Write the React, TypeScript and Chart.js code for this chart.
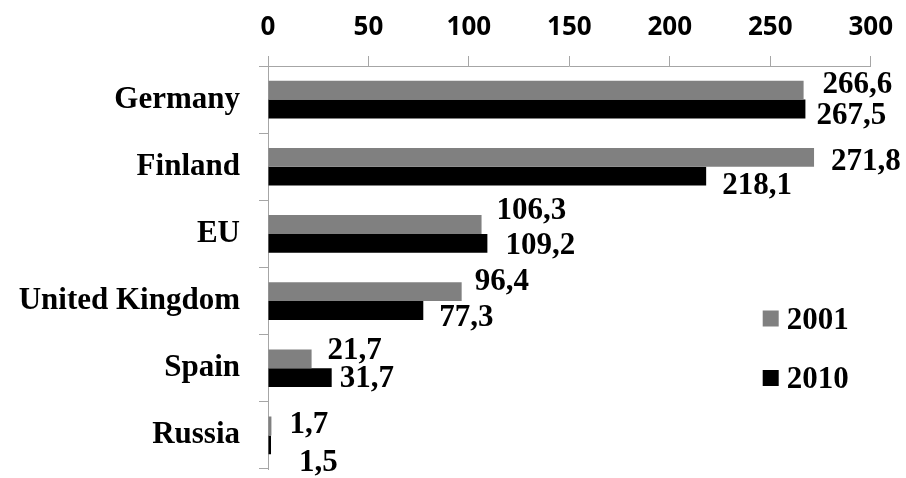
import { useEffect, useRef } from 'react';
import { Chart, registerables } from 'chart.js';

Chart.register(...registerables);

const categories = ['Germany', 'Finland', 'EU', 'United Kingdom', 'Spain', 'Russia'];
const seriesNames = ['2001', '2010'];
const values2001 = [266.6, 271.8, 106.3, 96.4, 21.7, 1.7];
const values2010 = [267.5, 218.1, 109.2, 77.3, 31.7, 1.5];
const axisMin = 0;
const axisMax = 300;
const axisStep = 50;

const seriesColors = ['#808080', '#000000'];

// Hand-placed value label offsets [dx from bar end, dy of digit centre from bar centre]
const labelNudge2001 = [[19, -7.5], [17, 2], [15, -16], [13, -12], [16, -10.5], [18, -3]];
const labelNudge2010 = [[11, 5], [16, 7], [18, 0], [16, 5], [8, -1.5], [28, 16]];

const SERIF = '"Liberation Serif", "Times New Roman", serif';
const SANS = '"Open Sans", "DejaVu Sans", sans-serif';
const AXIS_GREY = '#a6a6a6';
const LABEL_SIZE = 31;
// half the height of a digit, so text can be centred on its figures
const DIGIT_HALF = LABEL_SIZE * 0.338;

const WIDTH = 906;
const HEIGHT = 478;

const formatValue = (v: number) => v.toFixed(1).replace('.', ',');

const valueLabelPlugin = {
  id: 'valueLabels',
  afterDraw(chart: any) {
    const ctx = chart.ctx;
    const nudges = [labelNudge2001, labelNudge2010];
    ctx.save();
    ctx.font = `bold ${LABEL_SIZE}px ${SERIF}`;
    ctx.fillStyle = '#000';
    ctx.textAlign = 'left';
    ctx.textBaseline = 'alphabetic';
    chart.data.datasets.forEach((ds: any, i: number) => {
      const meta = chart.getDatasetMeta(i);
      meta.data.forEach((bar: any, j: number) => {
        const [dx, dy] = nudges[i][j];
        ctx.fillText(formatValue(ds.data[j]), bar.x + dx, bar.y + dy + DIGIT_HALF);
      });
    });
    ctx.restore();
  },
};

const sideLegendPlugin = {
  id: 'sideLegend',
  afterDraw(chart: any) {
    const ctx = chart.ctx;
    const { right, bottom } = chart.chartArea;
    const rows = [bottom - 150.5, bottom - 91];
    ctx.save();
    ctx.font = `bold ${LABEL_SIZE}px ${SERIF}`;
    ctx.textAlign = 'left';
    ctx.textBaseline = 'alphabetic';
    seriesNames.forEach((name, i) => {
      const x = right - 108;
      const y = rows[i];
      ctx.fillStyle = seriesColors[i];
      ctx.fillRect(x, y - 8, 16, 16);
      ctx.fillStyle = '#000';
      ctx.fillText(name, x + 24, y + DIGIT_HALF);
    });
    ctx.restore();
  },
};

export default function App() {
  const canvasRef = useRef<HTMLCanvasElement | null>(null);

  useEffect(() => {
    if (!canvasRef.current) return;
    const chart = new Chart(canvasRef.current, {
      type: 'bar',
      data: {
        labels: categories,
        datasets: [
          {
            label: seriesNames[0],
            data: values2001,
            backgroundColor: seriesColors[0],
            categoryPercentage: 0.56,
            barPercentage: 1,
          },
          {
            label: seriesNames[1],
            data: values2010,
            backgroundColor: seriesColors[1],
            categoryPercentage: 0.56,
            barPercentage: 1,
          },
        ],
      },
      options: {
        indexAxis: 'y',
        animation: false,
        responsive: false,
        layout: { padding: { left: 0, right: 35, top: 0, bottom: 9 } },
        plugins: {
          legend: { display: false },
          tooltip: { enabled: false },
        },
        scales: {
          x: {
            position: 'top',
            min: axisMin,
            max: axisMax,
            border: { color: AXIS_GREY, width: 1 },
            grid: {
              drawOnChartArea: false,
              drawTicks: true,
              tickLength: 10,
              color: AXIS_GREY,
            },
            ticks: {
              stepSize: axisStep,
              padding: 13,
              color: '#000',
              font: { family: SANS, size: 26, weight: 'bold' },
            },
            afterFit(scale: any) {
              scale.height = 66;
            },
          },
          y: {
            border: { color: AXIS_GREY, width: 1 },
            grid: {
              drawOnChartArea: false,
              drawTicks: true,
              tickLength: 9,
              color: AXIS_GREY,
              offset: true,
            },
            ticks: {
              padding: 19,
              color: '#000',
              font: { family: SERIF, size: LABEL_SIZE, weight: 'bold' },
            },
            afterFit(scale: any) {
              scale.width = 268;
              scale.paddingTop = 0;
              scale.paddingBottom = 0;
            },
          },
        },
      },
      plugins: [valueLabelPlugin, sideLegendPlugin],
    });
    return () => chart.destroy();
  }, []);

  return (
    <div style={{ position: 'fixed', left: 0, top: 0, width: WIDTH, height: HEIGHT, background: '#fff' }}>
      <canvas ref={canvasRef} width={WIDTH} height={HEIGHT} style={{ display: 'block' }} />
    </div>
  );
}
